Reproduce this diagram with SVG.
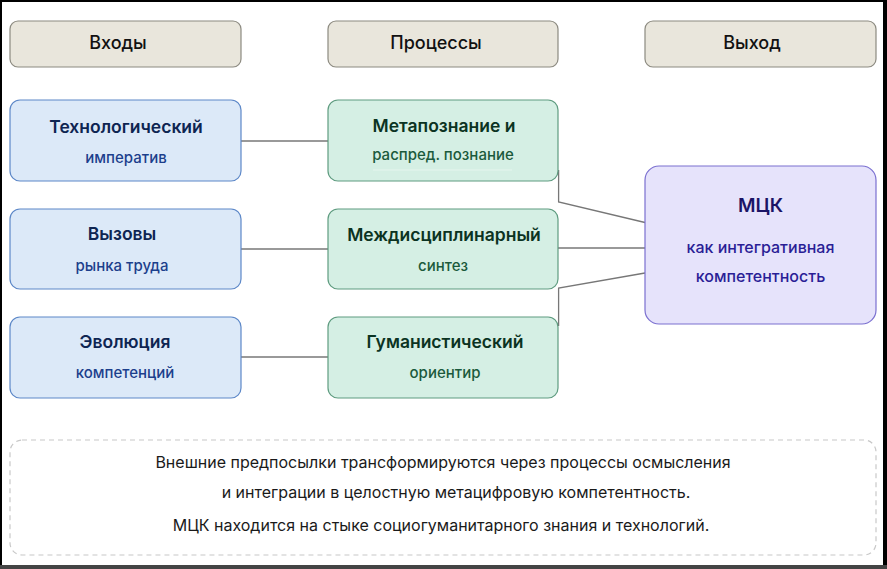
<svg xmlns="http://www.w3.org/2000/svg" width="887" height="569" viewBox="0 0 887 569">
<style>
.hdr{fill:#e9e6dc;stroke:#8c8a80;stroke-width:1.2}
.in{fill:#dce9f8;stroke:#5d88c8;stroke-width:1.2}
.pr{fill:#d5efe4;stroke:#5f9c80;stroke-width:1.2}
.out{fill:#e6e3fb;stroke:#7b70d0;stroke-width:1.2}
text{font-family:Inter,"Noto Sans","Liberation Sans",sans-serif;text-anchor:middle}
.ht{font-size:18px;font-weight:500;fill:#111}
.t{font-size:17.5px;font-weight:600}
.s{font-size:15px;font-weight:500}
.bt{fill:#0e2552}.bs{fill:#1c3f8c}
.gt{fill:#0b3322}.gs{fill:#1b5a3c}
.pt{fill:#1b1466}.ps{fill:#2a1e96}
.note{font-size:16px;font-weight:400;fill:#1a1a1a}
.c{fill:none;stroke:#777;stroke-width:1.3}
</style>
<rect x="0" y="0" width="887" height="569" fill="#fff"/>
<g id="frame">
<rect x="0" y="0" width="887" height="2" fill="#000"/>
<rect x="0" y="0" width="2" height="569" fill="#000"/>
<rect x="883" y="0" width="4" height="569" fill="#000"/>
<rect x="0" y="565" width="887" height="4" fill="#444"/>
</g>
<g id="connectors">
<line class="c" x1="241" y1="141" x2="328" y2="141"/>
<line class="c" x1="241" y1="249" x2="328" y2="249"/>
<line class="c" x1="241" y1="357" x2="328" y2="357"/>
<path class="c" d="M558.6,170 L558.6,202 L645,222.5"/>
<line class="c" x1="558" y1="248" x2="645" y2="248"/>
<path class="c" d="M558.6,326 L558.6,288 L645,273"/>
</g>
<g id="h-inputs"><rect class="hdr" x="10" y="21" width="231" height="46" rx="8"/><text class="ht" x="118" y="49">Входы</text></g>
<g id="h-processes"><rect class="hdr" x="328" y="21" width="230" height="46" rx="8"/><text class="ht" x="436" y="49">Процессы</text></g>
<g id="h-output"><rect class="hdr" x="645" y="21" width="231" height="46" rx="8"/><text class="ht" x="752" y="49">Выход</text></g>
<g id="in1"><rect class="in" x="10" y="100" width="231" height="81" rx="10"/><text class="t bt" x="126" y="133">Технологический</text><text class="s bs" x="126" y="163">императив</text></g>
<g id="in2"><rect class="in" x="10" y="209" width="231" height="80" rx="10"/><text class="t bt" x="122" y="240">Вызовы</text><text class="s bs" x="122" y="271">рынка труда</text></g>
<g id="in3"><rect class="in" x="10" y="317" width="231" height="81" rx="10"/><text class="t bt" x="125" y="348">Эволюция</text><text class="s bs" x="125" y="378">компетенций</text></g>
<g id="pr1"><rect class="pr" x="328" y="100" width="230" height="81" rx="10"/><text class="t gt" x="444" y="132">Метапознание и</text><text class="s gs" x="443" y="160">распред. познание</text><line x1="373" y1="170" x2="512" y2="170" stroke="#e6f5ee" stroke-width="1"/></g>
<g id="pr2"><rect class="pr" x="328" y="209" width="230" height="80" rx="10"/><text class="t gt" x="444" y="241">Междисциплинарный</text><text class="s gs" x="443" y="271">синтез</text></g>
<g id="pr3"><rect class="pr" x="328" y="317" width="230" height="81" rx="10"/><text class="t gt" x="445" y="348">Гуманистический</text><text class="s gs" x="445" y="378">ориентир</text></g>
<g id="out"><rect class="out" x="645" y="166" width="231" height="158" rx="14"/><text class="pt" x="760.5" y="212" style="font-size:19px;font-weight:600">МЦК</text><text class="ps" x="760.5" y="253" style="font-size:16px;font-weight:500">как интегративная</text><text class="ps" x="760.5" y="282" style="font-size:16px;font-weight:500">компетентность</text></g>
<g id="note"><rect x="10" y="440" width="866" height="115" rx="12" fill="none" stroke="#c8c8c8" stroke-width="1.2" stroke-dasharray="5,4"/>
<text class="note" x="443" y="468">Внешние предпосылки трансформируются через процессы осмысления</text>
<text class="note" x="456" y="498">и интеграции в целостную метацифровую компетентность.</text>
<text class="note" x="441" y="531">МЦК находится на стыке социогуманитарного знания и технологий.</text></g>
</svg>
